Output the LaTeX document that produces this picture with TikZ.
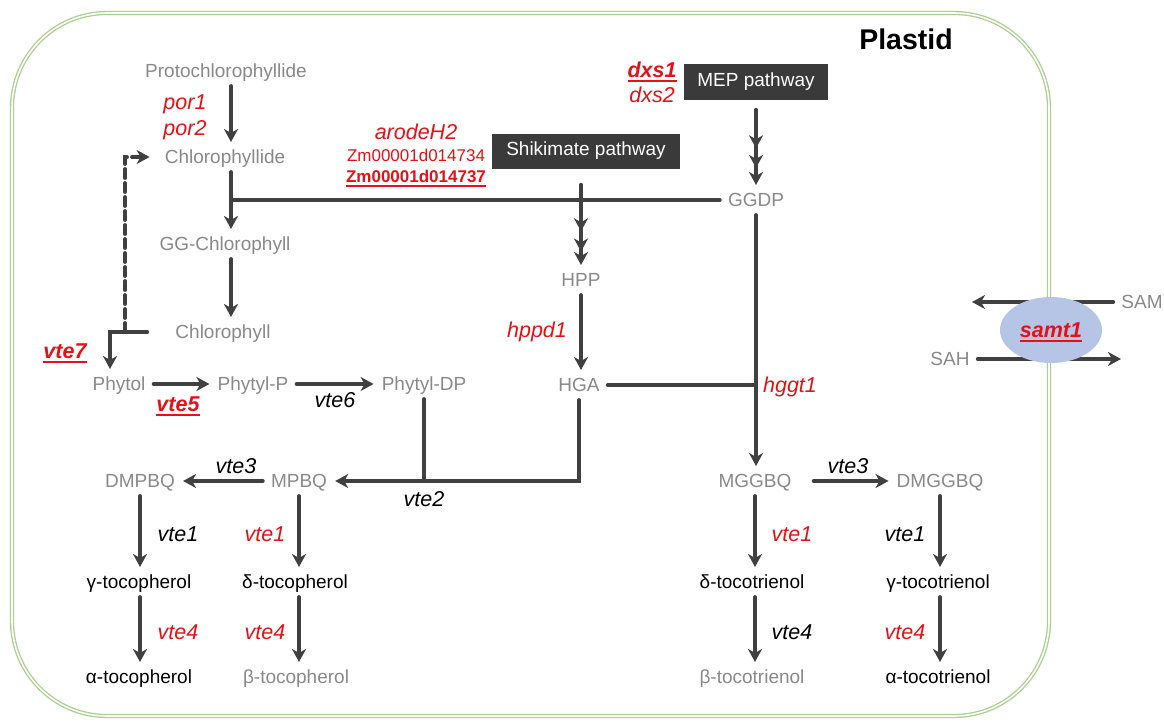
\documentclass[tikz,border=0pt]{standalone}
\usepackage{fontspec}
\setmainfont{Liberation Sans}
\usetikzlibrary{arrows.meta,shapes.geometric,decorations.markings}
\definecolor{cpdgray}{RGB}{137,137,137}
\definecolor{arrgray}{RGB}{64,64,64}
\definecolor{genered}{RGB}{228,18,22}
\definecolor{plastidgreen}{RGB}{169,208,142}
\definecolor{boxgray}{RGB}{58,58,58}
\definecolor{samtblue}{RGB}{182,196,230}
\newcommand{\ulgene}[1]{\setbox0=\hbox{#1}\rlap{\rule[-4.5pt]{\wd0}{1.8pt}}\box0}
\tikzset{
  cpd/.style={text=cpdgray, font=\fontsize{19}{23}\selectfont, text height=13.6pt, text depth=0pt, inner xsep=8pt, inner ysep=8pt},
  prod/.style={cpd, text=black},
  gene/.style={text=genered, font=\fontsize{21.5}{25}\selectfont\itshape, text height=15.4pt, text depth=0pt, inner sep=2pt},
  keygene/.style={gene, font=\fontsize{21.5}{25}\selectfont\bfseries\itshape},
  blkgene/.style={gene, text=black},
  zmid/.style={text=genered, font=\fontsize{17}{20}\selectfont, text height=12.2pt, text depth=0pt, inner sep=1pt},
  pathbox/.style={fill=boxgray, text=white, font=\fontsize{19}{23}\selectfont, minimum height=35pt, inner xsep=10pt},
  arr/.style={arrgray, line width=3.8pt, line cap=round, -{Stealth[length=13pt,width=14pt,inset=4pt]}},
  bar/.style={arrgray, line width=3.8pt, line cap=round},
  multi/.style 2 args={arr, postaction={decorate}, decoration={markings,
      mark=at position #1 with {\arrow{Stealth[length=13pt,width=14pt,inset=4pt]}},
      mark=at position #2 with {\arrow{Stealth[length=13pt,width=14pt,inset=4pt]}}}}
}
\begin{document}
\begin{tikzpicture}[x=1pt,y=-1pt]
    \useasboundingbox (0,0) rectangle (1164,725);
    % plastid envelope
    \draw[plastidgreen, line width=1.3pt, double=white, double distance=1.6pt, rounded corners=95pt] (12,13) rectangle (1049,716);
    \node[font=\fontsize{28.5}{33}\selectfont\bfseries] (plastid) at (906,39) {Plastid};

    % chlorophyll branch
    \node[cpd] (proto) at (226,71) {Protochlorophyllide};
    \node[cpd] (chlide) at (225,157) {Chlorophyllide};
    \node[cpd] (ggchl) at (225,244) {GG-Chlorophyll};
    \node[cpd] (chl) at (223,332) {Chlorophyll};
    \node[cpd] (phytol) at (119,384) {Phytol};
    \node[cpd] (phyp) at (253,384) {Phytyl-P};
    \node[cpd] (phydp) at (424,384) {Phytyl-DP};

    % precursors
    \node[pathbox, minimum width=188pt] (shik) at (586,151) {Shikimate pathway};
    \node[pathbox, minimum width=144pt] (mep) at (756,82) {MEP pathway};
    \node[cpd] (ggdp) at (756,200) {GGDP};
    \node[cpd] (hpp) at (581,280) {HPP};
    \node[cpd] (hga) at (579,385) {HGA};

    % quinols and vitamin E
    \node[cpd] (mpbq) at (299,481) {MPBQ};
    \node[cpd] (dmpbq) at (140,481) {DMPBQ};
    \node[cpd] (mggbq) at (755,481) {MGGBQ};
    \node[cpd] (dmggbq) at (940,481) {DMGGBQ};
    \node[prod] (gtoc) at (139,582) {γ-tocopherol};
    \node[prod] (dtoc) at (295,582) {δ-tocopherol};
    \node[prod] (atoc) at (139,677) {α-tocopherol};
    \node[cpd] (btoc) at (296,677) {β-tocopherol};
    \node[prod] (dtri) at (752,582) {δ-tocotrienol};
    \node[prod] (gtri) at (938,582) {γ-tocotrienol};
    \node[cpd] (btri) at (752,677) {β-tocotrienol};
    \node[prod] (atri) at (938,677) {α-tocotrienol};

    % methyl donor
    \node[cpd] (sam) at (1142,302) {SAM};
    \node[cpd] (sah) at (950,359) {SAH};
    \coordinate (samout) at (972,302);
    \coordinate (sahout) at (1121,359);

    \coordinate (chljoin) at (231,200);
    \coordinate (dashfoot) at (125,332);

    \draw[arr] ([xshift=5pt]proto.south) -- ([xshift=5pt]proto.south |- chlide.north);
    \draw[arr] ([xshift=6pt]chlide.south) -- ([xshift=6pt]chlide.south |- ggchl.north);
    \draw[arr] ([xshift=6pt]ggchl.south) -- ([xshift=6pt]ggchl.south |- chl.north);
    \draw[bar] (ggdp.west) -- (chljoin);
    \draw[arr] ([xshift=-20pt]chl.west) -| ([xshift=-9pt]phytol.north);
    \draw[arr, dash pattern=on 9pt off 5pt] (dashfoot) |- ([xshift=-7pt]chlide.west);
    \draw[arr] (phytol.east) -- (phyp.west);
    \draw[arr] (phyp.east) -- (phydp.west);

    \draw[multi={0.57}{0.8}, shorten <=10pt] (mep.south) -- (mep.south |- ggdp.north);
    \draw[multi={0.65}{0.86}, shorten <=16pt] (shik.south -| hpp) -- (hpp.north);
    \draw[arr] (hpp.south) -- (hpp.south |- hga.north);
    \draw[arr] (ggdp.south) -- (ggdp.south |- mggbq.north);
    \draw[bar] (hga.east) -- (hga.east -| ggdp.south);
    \draw[arr] (hga.south) |- (mpbq.east);
    \draw[bar] (phydp.south) -- (phydp.south |- mpbq.east);

    \draw[arr] (mpbq.west) -- (dmpbq.east);
    \draw[arr, shorten <=14pt] (mggbq.east) -- (dmggbq.west);
    \draw[arr] (dmpbq.south) -- (dmpbq.south |- gtoc.north);
    \draw[arr] (dmpbq.south |- gtoc.south) -- (dmpbq.south |- atoc.north);
    \draw[arr] (mpbq.south) -- (mpbq.south |- dtoc.north);
    \draw[arr] (mpbq.south |- dtoc.south) -- (mpbq.south |- btoc.north);
    \draw[arr] (mggbq.south) -- (mggbq.south |- dtri.north);
    \draw[arr] (mggbq.south |- dtri.south) -- (mggbq.south |- btri.north);
    \draw[arr] (dmggbq.south) -- (dmggbq.south |- gtri.north);
    \draw[arr] (dmggbq.south |- gtri.south) -- (dmggbq.south |- atri.north);

    \draw[arr] (sam.west) -- (samout);
    \draw[arr] (sah.east) -- (sahout);
    \node[keygene, ellipse, fill=samtblue, minimum width=102pt, minimum height=66pt] (samt) at (1051,330) {\ulgene{samt1}};

    % genes
    \node[gene] (por1) at (185,102) {por1};
    \node[gene] (por2) at (185,128) {por2};
    \node[gene] (arodeh) at (416,132) {arodeH2};
    \node[zmid] (zmfour) at (416,155) {Zm00001d014734};
    \node[zmid, font=\fontsize{17}{20}\selectfont\bfseries] (zmseven) at (416,176) {\ulgene{Zm00001d014737}};
    \node[keygene] (dxsone) at (652,70) {\ulgene{dxs1}};
    \node[gene] (dxstwo) at (652,95) {dxs2};
    \node[keygene] (vteseven) at (65,351) {\ulgene{vte7}};
    \node[keygene] (vtefive) at (178,404) {\ulgene{vte5}};
    \node[blkgene] (vtesix) at (335,400) {vte6};
    \node[gene] (hppd) at (537,330) {hppd1};
    \node[gene] (hggt) at (790,385) {hggt1};
    \node[blkgene] (vtetwo) at (424,499) {vte2};
    \node[blkgene] (vtethreel) at (236,466) {vte3};
    \node[blkgene] (vteonel) at (178,534) {vte1};
    \node[gene] (vteonem) at (265,534) {vte1};
    \node[gene] (vtefourl) at (178,632) {vte4};
    \node[gene] (vtefourm) at (265,632) {vte4};
    \node[blkgene] (vtethreer) at (848,466) {vte3};
    \node[gene] (vteoner) at (792,534) {vte1};
    \node[blkgene] (vteonerr) at (905,534) {vte1};
    \node[blkgene] (vtefourr) at (792,632) {vte4};
    \node[gene] (vtefourrr) at (905,632) {vte4};
\end{tikzpicture}
\end{document}
